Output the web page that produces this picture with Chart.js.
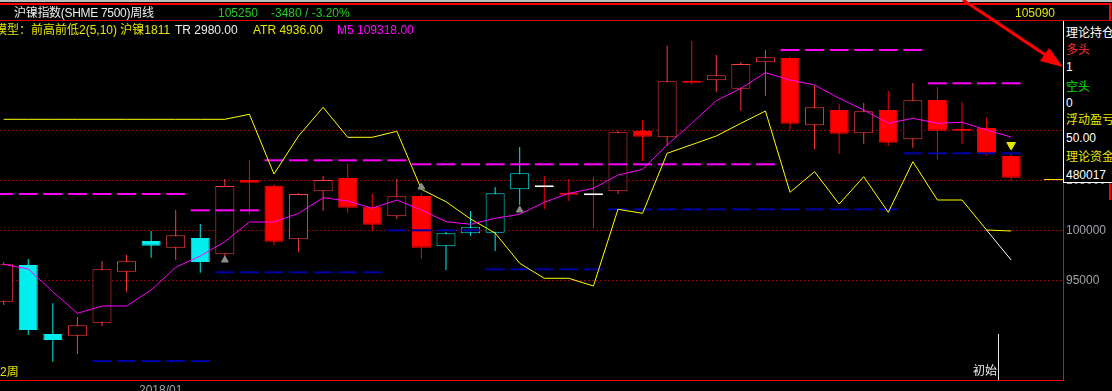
<!DOCTYPE html>
<html>
<head>
<meta charset="utf-8">
<script src="https://cdn.jsdelivr.net/npm/chart.js@4.4.0/dist/chart.umd.min.js"></script>
<style>
html, body { margin: 0; padding: 0; background: #000; width: 1112px; height: 391px; overflow: hidden; }
#wrap { position: relative; width: 1112px; height: 391px; }
canvas { position: absolute; left: 0; top: 0; }
.t { position: absolute; white-space: nowrap; font-family: "Liberation Sans", "Noto Sans CJK SC", sans-serif; font-size: 12px; line-height: 14px; }
.ln { position: absolute; }
#panel { position: absolute; left: 1063px; top: 21px; width: 48px; height: 161px; background: #000; border-left: 1px solid #fff; border-bottom: 1px solid #fff; overflow: hidden; }
#panel div { position: absolute; left: 2px; white-space: nowrap; font-family: "Liberation Sans", "Noto Sans CJK SC", sans-serif; font-size: 12px; line-height: 16px; }
</style>
</head>
<body>
<div id="wrap">
  <canvas id="kline" width="1112" height="391"></canvas>

  <div class="ln" style="left:0;top:0;width:1112px;height:2px;background:#bdbdbd"></div>
  <div class="ln" style="left:0;top:3px;width:1110px;height:2px;background:#ff0000"></div>
  <div class="ln" style="left:0;top:20px;width:1112px;height:1px;background:#e00000"></div>
  <div class="ln" style="left:1109px;top:3px;width:2px;height:197px;background:#ff0000"></div>
  <div class="ln" style="left:0;top:380px;width:1064px;height:1px;background:#ff0000"></div>
  <div class="ln" style="left:998px;top:334px;width:1px;height:46px;background:#e8e8e8"></div>

  <div class="t" style="left:14px;top:6px;color:#eeeeee;letter-spacing:-0.3px">沪镍指数(SHME 7500)周线</div>
  <div class="t" style="left:218px;top:6px;color:#22cc22">105250</div>
  <div class="t" style="left:271px;top:6px;color:#22cc22">-3480 / -3.20%</div>
  <div class="t" style="left:1015px;top:6px;color:#e6e600">105090</div>

  <div class="t" style="left:-5px;top:23px;color:#e6e600">模型：前高前低2(5,10) 沪镍1811</div>
  <div class="t" style="left:175px;top:23px;color:#eeeeee">TR 2980.00</div>
  <div class="t" style="left:253px;top:23px;color:#e6e600">ATR 4936.00</div>
  <div class="t" style="left:337px;top:23px;color:#ff00ff">M5 109318.00</div>

  <div class="t" style="left:0;top:365px;color:#e6e600">2周</div>
  <div class="t" style="left:973px;top:364px;color:#eeeeee">初始</div>
  <div class="t" style="left:139px;top:383px;color:#a0a4aa">2018/01</div>

  <div id="panel">
    <div style="top:4px;color:#fff">理论持仓</div>
    <div style="top:21px;color:#ff3030">多头</div>
    <div style="top:38px;color:#fff">1</div>
    <div style="top:58px;color:#00e000">空头</div>
    <div style="top:74px;color:#fff">0</div>
    <div style="top:91px;color:#e6e600">浮动盈亏</div>
    <div style="top:109px;color:#fff">50.00</div>
    <div style="top:128px;color:#e6e600">理论资金</div>
    <div style="top:146px;color:#fff">480017</div>
  </div>

  <svg class="ln" style="left:0;top:0" width="1112" height="391">
    <line x1="963" y1="0" x2="1047" y2="56" stroke="#ff0000" stroke-width="3"/>
    <polygon points="1063,67 1040,61 1049,48" fill="#ff0000"/>
  </svg>
</div>

<script>
// 沪镍指数 周线, 42 根K线
const opens  = [92860, 96530, 89630, 89460, 90760, 95860, 98930, 98260, 99230, 97600,
                105030, 104460, 99100, 103900, 105230, 102360, 101400, 103430, 98400, 99700,
                99760, 104100, 104300, 103730, 103500, 103900, 109930, 109300, 114930, 115000,
                114160, 116800, 117230, 110500, 112030, 109700, 112030, 109100, 113030, 110130,
                110230, 107430];
const closes = [96600, 90030, 89030, 90500, 96100, 96900, 98460, 99500, 96830, 104430,
                104760, 98860, 103630, 105030, 102260, 100560, 103400, 98260, 99700, 100300,
                103700, 105700, 104300, 103560, 103500, 109800, 109360, 114900, 114760, 115500,
                116630, 117300, 110660, 112300, 109660, 111900, 108760, 113000, 109960, 109960,
                107630, 105250];
const highs  = [96800, 97130, 92700, 91330, 96930, 97530, 99930, 102030, 100630, 105130,
                107030, 104600, 103730, 105430, 106630, 103630, 105130, 103700, 99830, 101930,
                104330, 108330, 105430, 105130, 105330, 109930, 111060, 118460, 118930, 117530,
                116830, 118030, 117360, 114430, 112630, 112730, 113930, 114730, 114330, 112860,
                111230, 107860];
const lows   = [92530, 89530, 86860, 87630, 90430, 93860, 97260, 97030, 95760, 97200,
                101600, 98530, 97860, 101960, 101760, 99960, 101100, 97160, 96030, 99460,
                97930, 102530, 102100, 102930, 100200, 103630, 106930, 108430, 114600, 113860,
                111960, 113460, 110030, 108100, 107630, 108660, 108430, 108260, 107060, 108630,
                107460, 104930];
const cyanBars = [1, 2, 6, 8, 18, 19, 20, 21];

const ma5 = [96600, 96130, 93860, 91700, 92430, 92430, 94030, 96300, 97430, 98860,
             100830, 100830, 101700, 103260, 102930, 102200, 103030, 102030, 100860, 100600,
             101200, 101600, 102800, 103700, 104200, 105530, 106100, 108530, 110700, 112960,
             114200, 115760, 115030, 114530, 113200, 112030, 110700, 111200, 110700, 110800,
             110030, 109318];
const stopLine = [111100, 111100, 111100, 111100, 111100, 111100, 111100, 111100, 111100, 111100,
                  111600, 105630, 109430, 112300, 109300, 109300, 109900, 104100, 102860, 101130,
                  99730, 96700, 95200, 95200, 94430, 102100, 101700, 107700, 108560, 109430,
                  110700, 111930, 103800, 105860, 102630, 105360, 101800, 106860, 103030, 103030,
                  100030, 99930];
const projX = [40, 41];
const projY = [100030, 97030];
const prevHigh = [103630, 103630, 103630, 103630, 103630, 103630, 103630, 103630, 102000, 102000,
                  102000, 107000, 107000, 107000, 107000, 107000, 107000, 106600, 106600, 106600,
                  106600, 106600, 106600, 106600, 106600, 106600, 106600, 106600, 106600, 106600,
                  106600, 106600, 118030, 118030, 118030, 118030, 118030, 118030, 114700, 114700,
                  114700, 114700];
const prevLow  = [null, null, null, null, 86930, 86930, 86930, 86930, 86930, 95800,
                  95800, 95800, 95800, 95800, 95800, 95800, 100000, 100000, 100000, 100000,
                  96100, 96100, 96100, 96100, 96100, 102100, 102100, 102100, 102100, 102100,
                  102100, 102100, 102100, 102100, 102100, 102100, 102100, 107700, 107700, 107700,
                  107700, 107700];
const buyMarkIdx = [9, 17, 21];
const buyMarkVal = [97030, 104330, 102030];
const sellMarkIdx = [41];
const sellMarkVal = [108530];
const gridPrices = [95000, 100000, 105000, 110000];
const lastPrice = 105090;

const idx = opens.map((_, i) => i);
const RED_UP = '#ff3c3c', RED_DN = '#ff0000', CYAN = '#00eeee';

function candleColor(i) {
    if (opens[i] === closes[i]) return '#ffffff';
    if (cyanBars.includes(i)) return CYAN;
    return closes[i] > opens[i] ? RED_UP : RED_DN;
}
function wickColor(i) {
    if (cyanBars.includes(i)) return CYAN;
    return closes[i] > opens[i] ? RED_UP : RED_DN;
}
const pts = (xs, ys) => xs.map((x, j) => ({ x: x, y: ys[j] })).filter(p => p.y !== null);

const lastPriceLine = {
    id: 'lastPriceLine',
    afterDatasetsDraw(chart) {
        const { ctx, chartArea, scales } = chart;
        const y = Math.round(scales.y.getPixelForValue(lastPrice)) + 0.5;
        ctx.save();
        ctx.strokeStyle = '#e6e600';
        ctx.lineWidth = 1;
        ctx.beginPath();
        ctx.moveTo(chartArea.right - 19, y);
        ctx.lineTo(chartArea.right, y);
        ctx.stroke();
        ctx.restore();
    }
};

new Chart(document.getElementById('kline').getContext('2d'), {
    type: 'bar',
    data: {
        datasets: [
            {
                type: 'line', order: 0, showLine: false,
                data: pts(buyMarkIdx, buyMarkVal),
                pointStyle: 'triangle', pointRadius: 4,
                pointBackgroundColor: '#8c8c8c', pointBorderColor: '#8c8c8c', pointBorderWidth: 1
            },
            {
                type: 'line', order: 0, showLine: false,
                data: pts(sellMarkIdx, sellMarkVal),
                pointStyle: 'triangle', pointRadius: 5, pointRotation: 180,
                pointBackgroundColor: '#e6e600', pointBorderColor: '#e6e600', pointBorderWidth: 1
            },
            {
                type: 'line', order: 1, data: pts(projX, projY),
                borderColor: '#ffffff', borderWidth: 1, pointRadius: 0, tension: 0
            },
            {
                type: 'line', order: 2, data: pts(idx, ma5),
                borderColor: '#ff00ff', borderWidth: 1, pointRadius: 0, tension: 0
            },
            {
                type: 'line', order: 3, data: pts(idx, stopLine),
                borderColor: '#ffff00', borderWidth: 1, pointRadius: 0, tension: 0
            },
            {
                type: 'line', order: 4, showLine: false, data: pts(idx, prevHigh),
                pointStyle: 'line', pointRadius: 9.5, pointBorderWidth: 2,
                pointBorderColor: '#ff00ff', pointBackgroundColor: '#ff00ff'
            },
            {
                type: 'line', order: 5, showLine: false, data: pts(idx, prevLow),
                pointStyle: 'line', pointRadius: 9.5, pointBorderWidth: 2,
                pointBorderColor: '#0000a8', pointBackgroundColor: '#0000a8'
            },
            {
                type: 'bar', order: 6,
                data: idx.map(i => ({ x: i, y: [opens[i], closes[i]] })),
                barThickness: 19, grouped: false, minBarLength: 2,
                borderSkipped: false, borderWidth: 1, inflateAmount: 0,
                borderColor: idx.map(candleColor),
                backgroundColor: idx.map(i => closes[i] > opens[i] ? '#000000' : candleColor(i))
            },
            {
                type: 'bar', order: 7,
                data: idx.map(i => ({ x: i, y: [lows[i], highs[i]] })),
                barThickness: 1, grouped: false, borderWidth: 0, inflateAmount: 0,
                backgroundColor: idx.map(wickColor)
            }
        ]
    },
    options: {
        responsive: false,
        animation: false,
        devicePixelRatio: 1,
        events: [],
        layout: { autoPadding: false, padding: { top: 22, bottom: 11, left: 0, right: 0 } },
        plugins: { legend: { display: false }, tooltip: { enabled: false } },
        scales: {
            x: { type: 'linear', min: -0.15, max: 43.11, display: false, offset: false },
            y: {
                type: 'linear', position: 'right', min: 85030, max: 120830,
                afterBuildTicks: s => { s.ticks = gridPrices.map(v => ({ value: v })); },
                afterFit: s => { s.width = 49; },
                grid: { color: '#a00000', drawTicks: false },
                border: { display: true, color: '#ff0000', width: 1, dash: [2, 2] },
                ticks: {
                    padding: 3, color: '#a0a4aa',
                    font: { family: 'Liberation Sans', size: 12 },
                    callback: v => String(v)
                }
            }
        }
    },
    plugins: [lastPriceLine]
});
</script>
</body>
</html>
